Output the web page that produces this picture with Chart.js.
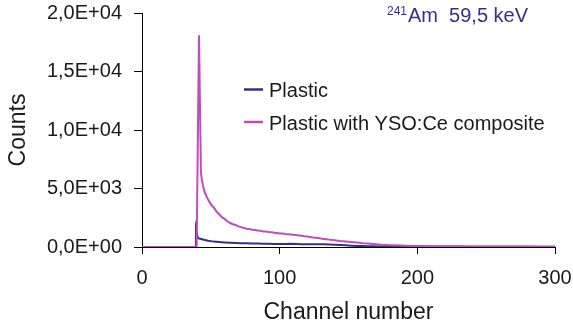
<!DOCTYPE html>
<html>
<head>
<meta charset="utf-8">
<script src="https://cdn.jsdelivr.net/npm/chart.js@4"></script>
<style>
  html, body { margin: 0; padding: 0; background: #fff; }
  #wrap { position: relative; width: 573px; height: 327px; }
  canvas { display: block; }
</style>
</head>
<body>
<div id="wrap"><canvas id="c" width="573" height="327"></canvas></div>
<script>
// ---- data ----
const compositeChannels = [0,10,20,30,39,39.7,41.4,42.8,43.5,45,46,48,50,52,54,56,58,60,62,64,66,68,70,72,74,76,78,80,82,84,86,88,90,92,94,96,98,100,102,104,106,108,110,112,114,116,118,120,122,124,126,128,130,132,134,136,138,140,142,144,146,148,150,152,154,156,158,160,162,164,166,168,170,172,174,176,178,180,184,188,192,196,200,210,220,230,240,250,260,270,280,290,300];
const compositeCounts   = [0,0,0,0,0,0,18100,6400,5700,4900,4550,4050,3650,3400,3050,2800,2550,2400,2200,2050,1950,1880,1760,1700,1620,1560,1540,1480,1460,1410,1380,1330,1320,1290,1270,1220,1200,1160,1150,1110,1100,1070,1040,1020,990,960,920,890,860,820,800,760,720,690,660,630,600,570,540,510,490,470,440,430,410,390,360,330,310,290,270,250,230,210,190,180,170,160,140,120,110,95,85,70,60,55,50,45,45,40,35,30,30];

const plasticChannels = [0,10,20,30,38,38.5,39.2,40.5,41,43,45,48,52,56,60,64,68,72,76,80,84,88,92,96,100,104,108,112,116,120,124,128,132,136,140,144,148,152,156,160,164,168,172,176,180,190,200,220,250,280,300];
const plasticCounts   = [0,0,0,0,0,0,1550,800,740,680,620,540,460,420,390,370,350,330,310,300,290,280,275,265,260,260,270,250,240,240,235,230,225,210,190,170,140,110,90,80,65,55,45,40,35,30,25,20,20,15,15];

const seriesNames = ["Plastic", "Plastic with YSO:Ce composite"];
const seriesColors = ["#3c2d8c", "#c24bbe"];
const xTickValues = [0, 100, 200, 300];
const yTickLabels = ["0,0E+00", "5,0E+03", "1,0E+04", "1,5E+04", "2,0E+04"];
const annotationSup = "241";
const annotationText = "Am  59,5 keV";

const FONT = "'Liberation Sans', Arial, sans-serif";

const toPoints = (xs, ys) => xs.map((x, i) => ({ x: x, y: ys[i] }));

const legendPlugin = {
  id: 'customLegend',
  afterDraw(chart) {
    const ctx = chart.ctx;
    ctx.save();
    const rows = [
      { name: seriesNames[0], color: seriesColors[0], ly: 89.5, ty: 97 },
      { name: seriesNames[1], color: seriesColors[1], ly: 122, ty: 130 }
    ];
    ctx.font = "20px " + FONT;
    ctx.textBaseline = 'alphabetic';
    ctx.textAlign = 'left';
    rows.forEach(r => {
      ctx.strokeStyle = r.color;
      ctx.lineWidth = 2.5;
      ctx.beginPath();
      ctx.moveTo(244, r.ly);
      ctx.lineTo(263, r.ly);
      ctx.stroke();
      ctx.fillStyle = '#1a1a1a';
      ctx.fillText(r.name, 269, r.ty);
    });
    // annotation
    ctx.fillStyle = '#3c2d8c';
    ctx.font = "12px " + FONT;
    ctx.fillText(annotationSup, 387, 15);
    ctx.font = "20px " + FONT;
    ctx.fillText(annotationText, 408, 22);
    ctx.restore();
  }
};

new Chart(document.getElementById('c'), {
  type: 'line',
  data: {
    datasets: [
      {
        label: seriesNames[1],
        data: toPoints(compositeChannels, compositeCounts),
        borderColor: seriesColors[1],
        borderWidth: 2,
        pointRadius: 0,
        tension: 0,
        fill: false
      },
      {
        label: seriesNames[0],
        data: toPoints(plasticChannels, plasticCounts),
        borderColor: seriesColors[0],
        borderWidth: 2,
        pointRadius: 0,
        tension: 0,
        fill: false
      }
    ]
  },
  options: {
    responsive: false,
    animation: false,
    devicePixelRatio: 1,
    layout: { padding: { top: 13, right: 18, left: 0, bottom: 0 } },
    plugins: { legend: { display: false }, tooltip: { enabled: false } },
    scales: {
      x: {
        type: 'linear',
        min: 0, max: 300,
        afterBuildTicks(scale) { scale.ticks = xTickValues.map(v => ({ value: v })); },
        afterFit(scale) { scale.height = 80; scale.paddingLeft = 0; scale.paddingRight = 0; },
        grid: { drawOnChartArea: false, drawTicks: true, tickLength: 7, color: '#000', lineWidth: 1 },
        border: { display: true, color: '#000', width: 1 },
        ticks: { color: '#1a1a1a', font: { family: FONT, size: 20 }, padding: 12, maxRotation: 0 },
        title: { display: true, text: 'Channel number', color: '#1a1a1a', font: { family: FONT, size: 23 }, padding: { top: 0, bottom: 1 } }
      },
      y: {
        type: 'linear',
        min: 0, max: 20000,
        ticks: {
          stepSize: 5000,
          color: '#1a1a1a',
          font: { family: FONT, size: 20 },
          padding: 12,
          callback: (v) => yTickLabels[Math.round(v / 5000)]
        },
        afterFit(scale) { scale.width = 142; scale.paddingTop = 0; scale.paddingBottom = 0; },
        grid: { drawOnChartArea: false, drawTicks: true, tickLength: 8, color: '#000', lineWidth: 1 },
        border: { display: true, color: '#000', width: 1 },
        title: { display: true, text: 'Counts', color: '#1a1a1a', font: { family: FONT, size: 23 }, padding: { top: 5, bottom: 0 } }
      }
    }
  },
  plugins: [legendPlugin]
});
</script>
</body>
</html>
